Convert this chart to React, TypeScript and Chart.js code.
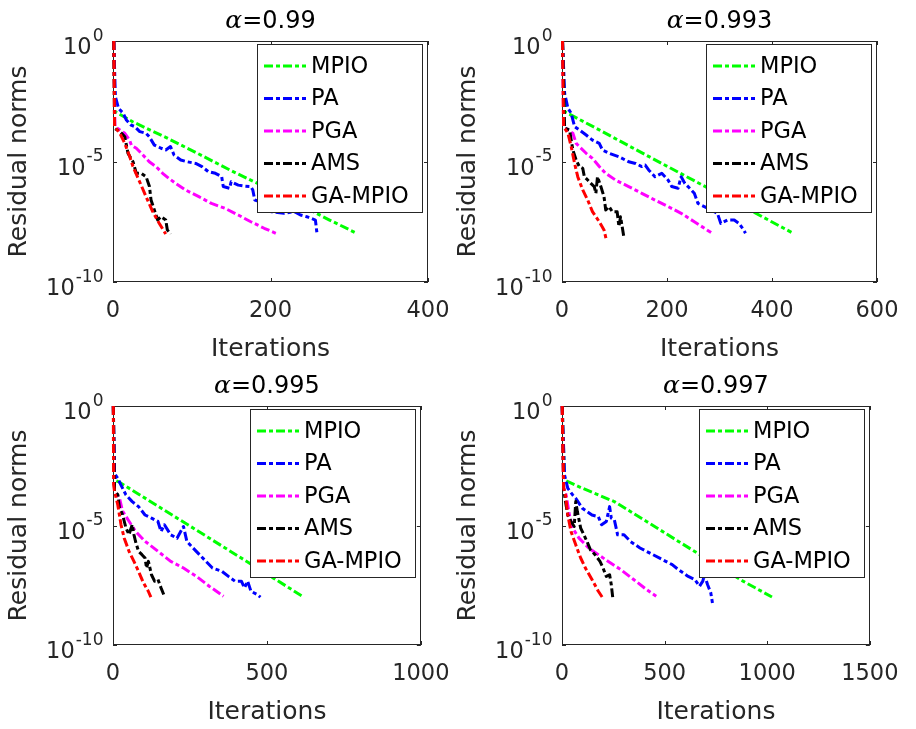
import React, { useEffect, useRef } from "react";
import { Chart, registerables } from "chart.js";
Chart.register(...registerables);

// ---------- data ----------
const SERIES = ["MPIO", "PA", "PGA", "AMS", "GA-MPIO"];
const COLORS = ["#00ff00", "#0000ff", "#ff00ff", "#000000", "#ff0000"];
const ALPHAS = ["0.99", "0.993", "0.995", "0.997"];
const X_MAX = [400, 600, 1000, 1500];
const X_STEP = [200, 200, 500, 500];
const Y_TICKS = [1e-10, 1e-5, 1];

// α = 0.99  (iterations / log10 residual)
const p1MpioIt = [1, 2.5, 25, 67, 109, 150, 192, 234, 275, 307];
const p1MpioExp = [0, -2.93, -3.35, -4.0, -4.69, -5.38, -6.04, -6.74, -7.43, -7.94];
const p1PaIt = [1, 3, 7, 13, 17, 23, 27.5, 34, 42, 46, 52.5, 61, 67, 73, 77.5, 86, 94, 105, 113, 121, 130, 138, 140, 148, 150, 159, 167, 175, 177.5, 180, 188, 200, 217, 230, 238, 246, 257, 259];
const p1PaExp = [0, -2.31, -2.79, -3.0, -3.28, -3.49, -3.55, -3.76, -3.83, -3.97, -4.32, -4.45, -4.52, -4.38, -4.73, -4.94, -5.01, -5.08, -5.21, -5.42, -5.49, -5.63, -6.04, -6.11, -5.84, -5.98, -6.02, -6.04, -6.18, -6.6, -6.67, -7.08, -7.15, -7.08, -7.22, -7.29, -7.43, -7.98];
const p1PgaIt = [1, 2.5, 8.75, 15, 21, 23.3, 29.6, 38, 46, 54.6, 63, 71, 79.6, 92, 109, 125, 142, 159, 175, 192, 209];
const p1PgaExp = [0, -3.55, -3.69, -3.83, -4.11, -4.32, -4.45, -4.73, -5.01, -5.21, -5.49, -5.7, -5.91, -6.18, -6.46, -6.74, -6.94, -7.22, -7.5, -7.77, -8.01];
const p1AmsIt = [1, 2, 8.75, 15, 19, 25.4, 29.6, 35.8, 42, 46.3, 48.3, 52.5, 56.7, 60.8, 67, 69, 73];
const p1AmsExp = [0, -3.62, -3.76, -3.97, -4.66, -5.01, -5.49, -5.49, -5.63, -6.04, -6.6, -7.01, -7.43, -7.29, -7.43, -7.84, -8.01];
const p1GaIt = [1, 2, 8.75, 15, 21.3, 25.4, 33.8, 42, 50.4, 58.8, 67];
const p1GaExp = [0, -3.55, -3.83, -4.25, -4.8, -5.21, -5.84, -6.46, -7.08, -7.57, -8.01];

// α = 0.993
const p2MpioIt = [1, 5, 71, 165, 259, 353, 437];
const p2MpioExp = [0, -2.93, -3.69, -4.79, -5.88, -6.96, -7.94];
const p2PaIt = [1, 5, 11.3, 17.5, 24, 33, 46, 58, 71, 77, 90, 108, 127, 140, 152, 158.5, 165, 177, 190, 202, 209, 221, 227, 234, 240, 252, 259, 271, 284, 296, 302.5, 315, 328, 337, 346, 349.5];
const p2PaExp = [0, -2.17, -2.79, -3.0, -3.55, -3.69, -3.9, -4.11, -4.25, -4.52, -4.66, -4.8, -5.01, -5.08, -5.21, -5.15, -5.35, -5.63, -5.49, -5.77, -6.04, -6.11, -5.63, -5.91, -6.04, -6.32, -6.74, -6.87, -7.01, -7.15, -7.57, -7.43, -7.43, -7.57, -7.84, -7.98];
const p2PgaIt = [1, 3, 11.3, 20.7, 27, 33, 46, 58, 71, 83, 102, 127, 152, 177, 202, 227, 252, 284];
const p2PgaExp = [0, -3.55, -3.69, -3.83, -4.25, -4.38, -4.66, -4.87, -5.21, -5.49, -5.77, -6.04, -6.32, -6.6, -6.87, -7.15, -7.5, -7.95];
const p2AmsIt = [1, 5, 14.4, 17.5, 20.7, 27, 33, 39.5, 42.6, 49, 55, 61.4, 64.5, 67.6, 74, 80, 83.3, 89.6, 95.8, 105, 108.4, 111.5, 117.7];
const p2AmsExp = [0, -3.62, -3.69, -4.11, -4.52, -4.94, -5.21, -5.28, -5.63, -5.77, -5.91, -6.04, -6.32, -5.63, -6.04, -6.46, -7.01, -6.87, -7.08, -7.08, -7.7, -7.29, -8.12];
const p2GaIt = [1, 3, 11.3, 17.5, 24, 30, 39.5, 49, 58, 71, 80, 84.6];
const p2GaExp = [0, -3.55, -3.83, -4.38, -5.08, -5.63, -6.18, -6.6, -7.08, -7.5, -7.84, -8.26];

// α = 0.995
const p3MpioIt = [1, 5, 21, 167, 323, 479, 615];
const p3MpioExp = [0, -3.1, -3.19, -4.36, -5.61, -6.86, -7.96];
const p3PaIt = [1, 5, 15.6, 26, 42, 62.5, 83, 104, 125, 146, 156, 167, 187.5, 208, 229, 240, 260, 281, 302, 323, 354, 375, 396, 417, 427, 437.5, 448, 469, 479];
const p3PaExp = [0, -2.82, -3.03, -3.31, -3.72, -4.0, -4.21, -4.56, -4.69, -4.83, -5.25, -4.97, -5.39, -5.53, -5.04, -5.67, -5.94, -6.22, -6.5, -6.78, -6.92, -7.13, -7.33, -7.33, -7.61, -7.33, -7.75, -7.89, -8.0];
const p3PgaIt = [1, 5, 21, 31, 52, 73, 104, 146, 187.5, 229, 271, 312.5, 359];
const p3PgaExp = [0, -3.57, -3.85, -4.4, -4.82, -5.24, -5.66, -6.08, -6.5, -6.78, -7.13, -7.54, -7.96];
const p3AmsIt = [1, 5, 15.6, 21, 31, 42, 52, 62.5, 68, 73, 83, 94, 104, 109, 115, 125, 135, 146, 156, 167];
const p3AmsExp = [0, -3.57, -3.71, -4.26, -4.54, -5.1, -5.38, -4.96, -5.38, -5.66, -6.08, -6.22, -6.36, -6.78, -6.5, -7.06, -7.33, -7.26, -7.61, -7.96];
const p3GaIt = [1, 2, 5, 15.6, 26, 36.5, 52, 68, 83, 99, 114.6, 123];
const p3GaExp = [0, -3.3, -3.57, -4.14, -4.97, -5.53, -6.08, -6.5, -6.92, -7.4, -7.75, -8.0];

// α = 0.997
const p4MpioIt = [1, 12.5, 99, 255, 412, 568, 725, 882, 1023];
const p4MpioExp = [0, -3.1, -3.44, -4.0, -4.83, -5.67, -6.5, -7.33, -7.99];
const p4PaIt = [1, 12.5, 28, 52, 67, 99, 146, 177, 193, 216, 232, 240, 255, 271, 302, 334, 380, 443, 490, 537, 568, 615, 647, 670, 686, 694, 709, 725, 733];
const p4PaExp = [0, -2.89, -3.44, -3.72, -3.86, -4.28, -4.56, -4.63, -4.97, -4.83, -4.21, -4.69, -4.76, -5.39, -5.39, -5.67, -5.94, -6.22, -6.43, -6.64, -6.85, -7.13, -7.26, -7.54, -7.33, -7.06, -7.47, -7.82, -8.24];
const p4PgaIt = [1, 8, 20, 36, 52, 83, 130, 177, 224, 287, 349, 412, 459];
const p4PgaExp = [0, -3.44, -3.72, -4.56, -5.11, -5.53, -5.94, -6.22, -6.5, -6.85, -7.26, -7.68, -7.96];
const p4AmsIt = [1, 8, 17, 28, 44, 59.5, 67, 75, 91, 106.5, 122, 138, 161, 185, 200, 216, 232, 240, 247];
const p4AmsExp = [0, -3.44, -4.0, -4.56, -4.83, -5.04, -4.0, -4.42, -5.11, -5.39, -5.67, -6.01, -6.22, -6.5, -6.78, -7.13, -7.06, -7.47, -8.0];
const p4GaIt = [1, 8, 17, 28, 44, 67, 91, 114, 146, 177, 196];
const p4GaExp = [0, -3.44, -3.72, -4.56, -5.25, -5.81, -6.36, -6.78, -7.26, -7.75, -8.0];

const PANEL_ITS = [
  [p1MpioIt, p1PaIt, p1PgaIt, p1AmsIt, p1GaIt],
  [p2MpioIt, p2PaIt, p2PgaIt, p2AmsIt, p2GaIt],
  [p3MpioIt, p3PaIt, p3PgaIt, p3AmsIt, p3GaIt],
  [p4MpioIt, p4PaIt, p4PgaIt, p4AmsIt, p4GaIt],
];
const PANEL_EXPS = [
  [p1MpioExp, p1PaExp, p1PgaExp, p1AmsExp, p1GaExp],
  [p2MpioExp, p2PaExp, p2PgaExp, p2AmsExp, p2GaExp],
  [p3MpioExp, p3PaExp, p3PgaExp, p3AmsExp, p3GaExp],
  [p4MpioExp, p4PaExp, p4PgaExp, p4AmsExp, p4GaExp],
];

// ---------- layout ----------
const AREAS = [
  { l: 113, t: 41, w: 320, h: 241 },
  { l: 562, t: 41, w: 320, h: 241 },
  { l: 113, t: 406, w: 320, h: 239 },
  { l: 562, t: 406, w: 320, h: 239 },
];
const PAD_L = 113, PAD_T = 41, PAD_R = 32, PAD_B = 84;
const FONT = '"DejaVu Sans", sans-serif';
const AXIS_COLOR = "#262626";
const DASH = [9, 3, 4, 3];

const decorPlugin = {
  id: "decor",
  beforeDatasetsDraw(chart: any) {
    const { ctx, chartArea: ca, scales } = chart;
    const xs = scales.x, ys = scales.y;
    ctx.save();
    ctx.strokeStyle = AXIS_COLOR;
    ctx.lineWidth = 1;
    ctx.beginPath();
    xs.ticks.forEach((t: any) => {
      const px = Math.round(xs.getPixelForValue(t.value)) + 0.5;
      ctx.moveTo(px, ca.bottom); ctx.lineTo(px, ca.bottom - 4);
      ctx.moveTo(px, ca.top); ctx.lineTo(px, ca.top + 4);
    });
    ys.ticks.forEach((t: any) => {
      const py = Math.round(ys.getPixelForValue(t.value)) + 0.5;
      ctx.moveTo(ca.left, py); ctx.lineTo(ca.left + 4, py);
      ctx.moveTo(ca.right, py); ctx.lineTo(ca.right - 4, py);
    });
    ctx.stroke();
    ctx.strokeRect(Math.round(ca.left) + 0.5, Math.round(ca.top) + 0.5, Math.round(ca.width) - 1, Math.round(ca.height) - 1);
    ctx.restore();
  },
  afterDatasetsDraw(chart: any) {
    const { ctx, chartArea: ca } = chart;
    const w = 165, h = 168;
    const x0 = Math.round(ca.right - 6 - w), y0 = Math.round(ca.top + 3);
    ctx.save();
    ctx.fillStyle = "#ffffff";
    ctx.fillRect(x0, y0, w, h);
    ctx.strokeStyle = AXIS_COLOR;
    ctx.lineWidth = 1;
    ctx.strokeRect(x0 + 0.5, y0 + 0.5, w, h);
    chart.data.datasets.forEach((ds: any, i: number) => {
      const y = y0 + 22 + 32.5 * i;
      ctx.strokeStyle = ds.borderColor;
      ctx.lineWidth = 3;
      ctx.setLineDash(DASH);
      ctx.beginPath();
      ctx.moveTo(x0 + 7, y);
      ctx.lineTo(x0 + 49, y);
      ctx.stroke();
      ctx.setLineDash([]);
      ctx.fillStyle = "#000000";
      ctx.font = `22.5px ${FONT}`;
      ctx.textBaseline = "middle";
      ctx.textAlign = "left";
      ctx.fillText(ds.label, x0 + 54, y + 1);
    });
    ctx.restore();
  },
  afterDraw(chart: any) {
    const { ctx, chartArea: ca, scales } = chart;
    const ys = scales.y;
    const alpha = chart.options.plugins.decor.alpha;
    ctx.save();
    ctx.fillStyle = AXIS_COLOR;
    ctx.textBaseline = "alphabetic";
    ctx.textAlign = "left";
    // y tick labels 10^e
    ys.ticks.forEach((t: any) => {
      const py = ys.getPixelForValue(t.value);
      const e = String(Math.round(Math.log10(t.value)));
      ctx.font = `17px ${FONT}`;
      const supW = ctx.measureText(e).width;
      ctx.font = `22.5px ${FONT}`;
      const baseW = ctx.measureText("10").width;
      const right = ca.left - 9.5;
      ctx.fillText("10", right - supW - baseW - 1, py + 13);
      ctx.font = `17px ${FONT}`;
      ctx.fillText(e, right - supW, py - 0.5);
    });
    // title  α=...
    ctx.fillStyle = "#000000";
    const aFont = `italic 25px "DejaVu Serif", serif`;
    const tFont = `24px ${FONT}`;
    const rest = "=" + alpha;
    ctx.font = aFont;
    const aW = ctx.measureText("α").width;
    ctx.font = tFont;
    const rW = ctx.measureText(rest).width;
    const cx = (ca.left + ca.right) / 2;
    const x = cx - (aW + rW) / 2;
    const base = ca.top - 13.5;
    ctx.font = aFont;
    ctx.fillText("α", x, base);
    ctx.font = tFont;
    ctx.fillText(rest, x + aW, base);
    ctx.restore();
  },
};

function Panel({ idx }: { idx: number }) {
  const ref = useRef<HTMLCanvasElement>(null);
  const a = AREAS[idx];
  const cw = a.w + PAD_L + PAD_R;
  const chh = a.h + PAD_T + PAD_B;
  useEffect(() => {
    const datasets = SERIES.map((name, i) => ({
      label: name,
      data: PANEL_ITS[idx][i].map((it, k) => ({ x: it, y: Math.pow(10, PANEL_EXPS[idx][i][k]) })),
      borderColor: COLORS[i],
      backgroundColor: COLORS[i],
      borderWidth: 3,
      borderDash: DASH,
      borderJoinStyle: "round" as const,
      pointRadius: 0,
      tension: 0,
      fill: false,
      clip: 6,
      order: SERIES.length - 1 - i,
    }));
    const chart = new Chart(ref.current as HTMLCanvasElement, {
      type: "line",
      data: { datasets },
      options: {
        animation: false,
        responsive: false,
        devicePixelRatio: 1,
        events: [],
        layout: { padding: { left: 0, top: PAD_T, right: PAD_R, bottom: 0 } },
        plugins: {
          legend: { display: false },
          title: { display: false },
          tooltip: { enabled: false },
          decor: { alpha: ALPHAS[idx] },
        } as any,
        scales: {
          x: {
            type: "linear",
            min: 0,
            max: X_MAX[idx],
            grid: { display: false, drawTicks: false },
            border: { display: false },
            ticks: {
              stepSize: X_STEP[idx],
              padding: 15.5,
              maxRotation: 0,
              autoSkip: false,
              color: AXIS_COLOR,
              font: { family: FONT, size: 22.5 },
              callback: (v: any) => String(v),
            },
            title: {
              display: true,
              text: "Iterations",
              color: AXIS_COLOR,
              font: { family: FONT, size: 25 },
              padding: { top: 0, bottom: 2 },
            },
            afterFit: (s: any) => { s.height = PAD_B; },
          },
          y: {
            type: "logarithmic",
            min: 1e-10,
            max: 1,
            grid: { display: false, drawTicks: false },
            border: { display: false },
            ticks: { display: false },
            afterBuildTicks: (s: any) => { s.ticks = Y_TICKS.map((v) => ({ value: v })); },
            title: {
              display: true,
              text: "Residual norms",
              color: AXIS_COLOR,
              font: { family: FONT, size: 25 },
              padding: { top: 4, bottom: 0 },
            },
            afterFit: (s: any) => { s.width = PAD_L; },
          },
        },
      } as any,
      plugins: [decorPlugin],
    });
    return () => chart.destroy();
  }, [idx]);
  return (
    <canvas
      ref={ref}
      width={cw}
      height={chh}
      style={{ position: "absolute", left: a.l - PAD_L, top: a.t - PAD_T, width: cw, height: chh }}
    />
  );
}

export default function App() {
  return (
    <div style={{ position: "absolute", left: 0, top: 0, width: 916, height: 729, background: "#ffffff", overflow: "hidden" }}>
      {[0, 1, 2, 3].map((i) => (
        <Panel key={i} idx={i} />
      ))}
    </div>
  );
}
